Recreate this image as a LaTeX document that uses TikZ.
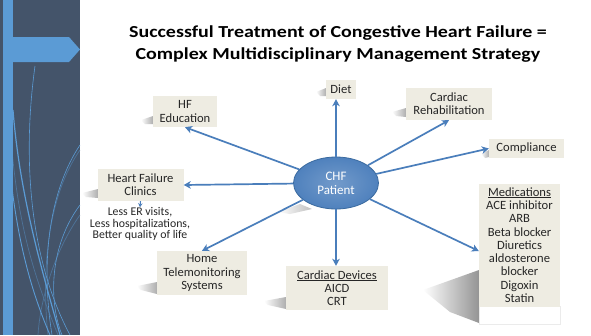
\documentclass[tikz,border=0pt]{standalone}
\usepackage{fontspec}
\setmainfont{Carlito}
\newfontfamily\titlefont[FakeStretch=1.19]{Carlito}
\usetikzlibrary{arrows.meta,calc,shapes.geometric}
\definecolor{panel}{HTML}{44546A}
\definecolor{accent}{HTML}{5B9BD5}
\definecolor{boxbg}{HTML}{EEECE2}
\definecolor{arrowblue}{HTML}{4A7EBB}
\definecolor{ellfill}{HTML}{4F81BD}
\definecolor{ellline}{HTML}{3A6A9F}
\definecolor{txt}{HTML}{262626}
\tikzset{
  infobox/.style={fill=boxbg, text=txt, align=center, inner sep=0pt,
    font=\fontsize{12.6}{13.3}\selectfont},
  link/.style={draw=arrowblue, line width=1.7pt,
    -{Stealth[length=7pt,width=7.5pt,inset=2pt]}},
  swoosh/.style={draw=accent, line width=0.6pt},
  faint/.style={draw=accent!45!panel, line width=0.7pt}
}
\newcommand{\castshadow}[4]{% left, bottom, length, rise
  \shade[left color=white, right color=black!32]
    (#1-#3,#2-#4) -- (#1,#2-#4-4) -- (#1,#2) -- (#1-#3+4,#2-#4+4) -- cycle;}
\begin{document}
\begin{tikzpicture}[x=1pt,y=-1pt]
\useasboundingbox (0,0) rectangle (591,335);
\fill[white] (0,0) rectangle (591,335);

% side panel with banner and swooshes
\fill[panel] (0,0) rectangle (80,335);
\begin{scope}
\clip (0,0) rectangle (80,335);
\draw[faint] (12,150) .. controls (20,240) and (40,290) .. (58,335);
\draw[faint] (80,215) .. controls (55,250) and (40,300) .. (38,335);
\draw[faint] (80,150) .. controls (45,200) and (42,280) .. (48,335);
\draw[swoosh] (35,66) .. controls (22,160) and (30,260) .. (70,335);
\draw[swoosh, line width=1.2pt] (13,110) .. controls (20,200) and (45,280) .. (60,335);
\draw[swoosh] (80,145) .. controls (50,190) and (40,260) .. (52,335);
\draw[swoosh] (80,205) .. controls (50,245) and (48,300) .. (62,335);
\draw[swoosh, line width=0.9pt] (10,170) .. controls (18,250) and (35,300) .. (50,335);
\end{scope}
\fill[accent] (3,0) rectangle (13,335);
\fill[accent] (3,37) -- (69,37) -- (80,49.5) -- (69,62) -- (3,62) -- cycle;

% title
\node[font=\titlefont\bfseries\fontsize{16.8}{22}\selectfont, text=black, align=center]
  (title) at (338,44) {Successful Treatment of Congestive Heart Failure =\\
  Complex Multidisciplinary Management Strategy};

% shadows of the boxes
\castshadow{326}{96}{10}{4}
\castshadow{153}{124}{12}{4}
\castshadow{406}{117}{14}{5}
\castshadow{489}{157}{8}{3}
\castshadow{98}{198}{16}{5}
\castshadow{157}{294}{20}{8}
\castshadow{286}{309}{22}{8}
\shade[left color=white, right color=black!42]
  (423,290) -- (479,270) -- (479,323) -- (450,312) -- cycle;
\shade[left color=white, right color=black!25]
  (278,212) -- (300,204) -- (312,209) -- (290,214) -- cycle;

% boxes
\node[infobox, minimum width=30pt, minimum height=19pt] (diet) at (341,89.5) {Diet};
\node[infobox, minimum width=64pt, minimum height=31pt] (hfedu) at (185,111.5) {HF\\Education};
\node[infobox, minimum width=86pt, minimum height=32pt] (rehab) at (449,104) {Cardiac\\Rehabilitation};
\node[infobox, minimum width=75pt, minimum height=19pt] (compl) at (526.5,148.5) {Compliance};
\node[infobox, minimum width=86pt, minimum height=32pt] (clinics) at (140.5,185) {Heart Failure\\Clinics};
\node[infobox, minimum width=90pt, minimum height=44pt] (home) at (202,273) {Home\\Telemonitoring\\Systems};
\node[infobox, minimum width=102pt, minimum height=44pt] (devices) at (337,288)
  {\underline{Cardiac Devices}\\AICD\\CRT};
\fill[white] (479,306) rectangle (560,324);
\draw[black!8] (479,306) rectangle (560,324);
\node[infobox, minimum width=81pt, minimum height=123pt] (meds) at (519.5,245)
  {\underline{Medications}\\ACE inhibitor\\ARB\\Beta blocker\\Diuretics\\aldosterone\\blocker\\Digoxin\\Statin};

\node[text=txt, align=center, font=\fontsize{11.8}{11.6}\selectfont, inner sep=0pt]
  (outcome) at (140,224) {Less ER visits,\\Less hospitalizations,\\Better quality of life};

% central ellipse
\node[ellipse, minimum width=85pt, minimum height=52pt, inner sep=0pt,
  draw=ellline, line width=0.8pt, inner color=ellfill!80!white, outer color=ellfill,
  text=white, align=center, font=\fontsize{13}{14}\selectfont] (chf) at (336,183) {CHF\\Patient};

% connectors
\draw[link] (chf.north) -- (chf.north |- diet.south);
\draw[link] (chf) -- (hfedu.south);
\draw[link] (chf) -- (rehab.south);
\draw[link] (chf) -- (compl.west);
\draw[link] (chf) -- (clinics.east);
\draw[link] (chf) -- (home.north);
\draw[link] (chf.south) -- (chf.south |- devices.north);
\draw[link] (chf) -- ($(meds.west)+(0,6)$);
\draw[draw=arrowblue, line width=1pt, -{Stealth[length=4pt,width=4.5pt]}]
  (clinics.south) -- (outcome.north);
\end{tikzpicture}
\end{document}
